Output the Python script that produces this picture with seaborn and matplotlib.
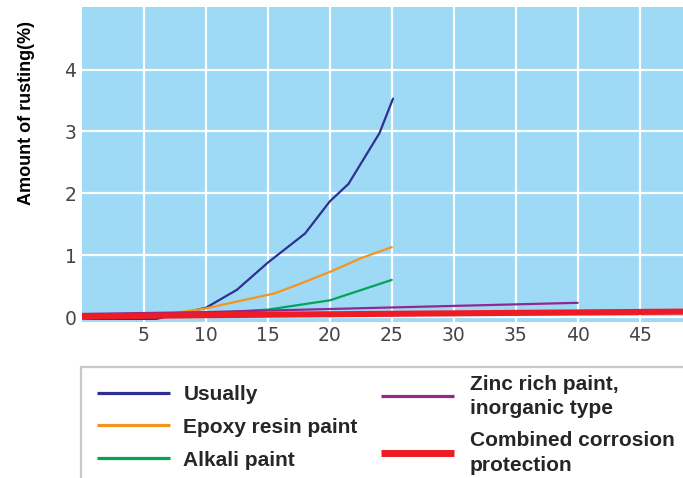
import matplotlib
matplotlib.use("Agg")
import matplotlib.pyplot as plt
import matplotlib.patches as mpatches
import seaborn as sns
import pandas as pd

# ---- data ----
usually_t = [0, 6, 10, 12.5, 15, 18, 20, 21.5, 24, 25.1]
usually_v = [-0.03, -0.03, 0.15, 0.44, 0.88, 1.35, 1.87, 2.15, 2.97, 3.53]

epoxy_t = [0, 6, 10, 12.5, 15.5, 17.5, 20, 22.5, 25]
epoxy_v = [-0.02, 0.02, 0.14, 0.25, 0.38, 0.53, 0.73, 0.95, 1.13]

alkali_t = [0, 5, 10, 15, 20, 25]
alkali_v = [0.0, 0.01, 0.06, 0.12, 0.27, 0.60]

zinc_t = [0, 10, 20, 30, 40]
zinc_v = [0.05, 0.08, 0.13, 0.18, 0.23]

combined_t = [0, 10, 20, 30, 40, 50]
combined_v = [0.01, 0.03, 0.045, 0.06, 0.075, 0.09]

series_names = ["Usually", "Epoxy resin paint", "Alkali paint",
                "Zinc rich paint,\ninorganic type", "Combined corrosion\nprotection"]
x_ticks = [5, 10, 15, 20, 25, 30, 35, 40, 45]
y_ticks = [0, 1, 2, 3, 4]
y_label = "Amount of rusting(%)"

colors = ["#2E3192", "#F7941D", "#00A651", "#92278F", "#ED1C24"]
widths = [1.6, 1.6, 1.6, 1.6, 4.4]

# ---- figure ----
sns.set_style("white")
plt.rcParams["font.family"] = ["Liberation Sans", "DejaVu Sans"]

fig = plt.figure(figsize=(6.83, 4.78), dpi=100)
ax = fig.add_axes([82 / 683, 1 - 322 / 478, 1 - 82 / 683, (322 - 7) / 478])
ax.set_facecolor("#9ED9F6")

data = [(usually_t, usually_v), (epoxy_t, epoxy_v), (alkali_t, alkali_v),
        (zinc_t, zinc_v), (combined_t, combined_v)]
for (t, v), name, c, w in zip(data, series_names, colors, widths):
    df = pd.DataFrame({"t": t, "v": v})
    sns.lineplot(data=df, x="t", y="v", ax=ax, color=c, linewidth=w,
                 label=name, legend=False, zorder=3)

ax.set_xlim(0, 48.5)
ax.set_ylim(-0.08, 5.01)
ax.set_xticks(x_ticks)
ax.set_yticks(y_ticks)
ax.grid(True, color="white", linewidth=1.6, zorder=1)
ax.set_axisbelow(True)
for s in ax.spines.values():
    s.set_visible(False)
ax.tick_params(axis="both", length=0, labelsize=13.5, labelcolor="#454545")
ax.tick_params(axis="y", pad=4)
ax.tick_params(axis="x", pad=3)
for lab in ax.get_xticklabels() + ax.get_yticklabels():
    lab.set_family("DejaVu Sans")
ax.set_xlabel("")
ax.set_ylabel("")
fig.text(27 / 683, 1 - 113 / 478, y_label, rotation=90, ha="center", va="center",
         fontsize=13, fontweight="bold", color="black")

# ---- legend ----
handles = ax.get_lines()
h1, h2 = handles[:3], handles[3:5]
common = dict(frameon=False, handlelength=3.5, borderpad=0,
              borderaxespad=0, loc="upper left", bbox_transform=fig.transFigure,
              prop={"weight": "bold", "size": 15})
leg1 = fig.legend(h1, series_names[:3], bbox_to_anchor=(97 / 683, 1 - 385 / 478),
                  labelspacing=0.66, handletextpad=0.65, **common)
leg2 = fig.legend(h2, series_names[3:], bbox_to_anchor=(381 / 683, 1 - 374.5 / 478),
                  labelspacing=0.62, handletextpad=0.75, **common)
for txt in leg2.get_texts():
    txt.set_linespacing(1.37)
for leg, ws in ((leg1, [2.3, 2.3, 2.3]), (leg2, [2.3, 5.0])):
    for lh, w in zip(leg.legend_handles, ws):
        lh.set_linewidth(w)
        lh.set_solid_capstyle("butt")

frame = mpatches.Rectangle((81 / 683, -0.05), 1.0, 1 - 367 / 478 + 0.05,
                           transform=fig.transFigure, fill=False,
                           edgecolor="#c8c8c8", linewidth=1.6, clip_on=False)
fig.add_artist(frame)

fig.savefig("out.png", dpi=100)
